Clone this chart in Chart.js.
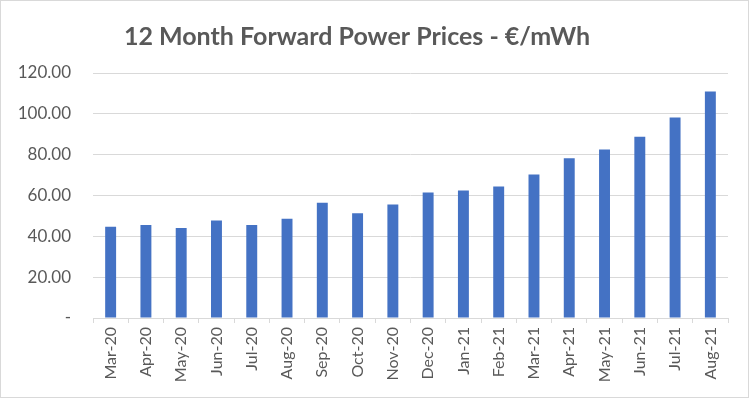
<!DOCTYPE html>
<html>
<head>
<meta charset="utf-8">
<script src="https://cdn.jsdelivr.net/npm/chart.js@4"></script>
<style>
  html, body { margin: 0; padding: 0; background: #fff; }
  #wrap { width: 752px; height: 399px; }
</style>
</head>
<body>
<div id="wrap"><canvas id="price-chart" width="752" height="399"></canvas></div>
<script>
const months = ["Mar-20", "Apr-20", "May-20", "Jun-20", "Jul-20", "Aug-20", "Sep-20", "Oct-20", "Nov-20",
    "Dec-20", "Jan-21", "Feb-21", "Mar-21", "Apr-21", "May-21", "Jun-21", "Jul-21", "Aug-21"];
const prices = [44.7, 45.5, 44.1, 47.8, 45.5, 48.6, 56.4, 51.3, 55.6,
    61.5, 62.5, 64.4, 70.3, 78.2, 82.5, 88.8, 98.2, 111.0];
const titleText = "12 Month Forward Power Prices - €/mWh";

const GREY_TEXT = '#595959';
const GRID = '#d9d9d9';

// title + outer border drawn by hand so they sit where excel put them
const frame = {
    id: 'frame',
    afterDraw(chart) {
        const ctx = chart.ctx;
        ctx.save();
        ctx.strokeStyle = GRID;
        ctx.lineWidth = 1;
        ctx.strokeRect(0.5, 0.5, chart.width - 4, chart.height - 2);
        ctx.fillStyle = GREY_TEXT;
        ctx.font = 'bold 25px Lato';
        ctx.textAlign = 'center';
        ctx.textBaseline = 'alphabetic';
        ctx.fillText(titleText, 357, 45);
        ctx.restore();
    }
};

new Chart(document.getElementById('price-chart').getContext('2d'), {
    type: 'bar',
    data: {
        labels: months,
        datasets: [{
            data: prices,
            backgroundColor: '#4472c4',
            barPercentage: 0.31,
            categoryPercentage: 1
        }]
    },
    options: {
        responsive: false,
        animation: false,
        layout: { padding: { left: 8, right: 24, top: 73, bottom: 0 } },
        plugins: {
            legend: { display: false },
            title: { display: false },
            tooltip: { enabled: false }
        },
        scales: {
            x: {
                afterFit: (scale) => { scale.height = 81; },
                grid: { drawOnChartArea: false, drawTicks: true, tickLength: 5, color: GRID },
                border: { display: true, color: GRID },
                ticks: {
                    color: GREY_TEXT,
                    font: { family: 'Lato', size: 16 },
                    minRotation: 90,
                    maxRotation: 90,
                    autoSkip: false,
                    padding: 4
                }
            },
            y: {
                min: 0,
                max: 120,
                afterFit: (scale) => { scale.width = 85; },
                grid: { color: GRID, drawTicks: false },
                border: { display: false },
                ticks: {
                    stepSize: 20,
                    color: GREY_TEXT,
                    font: { family: 'Lato', size: 17 },
                    padding: 22,
                    callback: (v) => v === 0 ? '-' : v.toFixed(2)
                }
            }
        }
    },
    plugins: [frame]
});
</script>
</body>
</html>
